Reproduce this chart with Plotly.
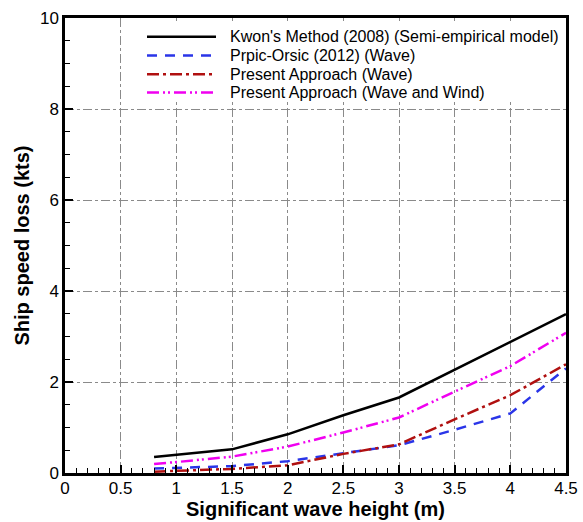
import plotly.graph_objects as go

# Significant wave height (m)
wave_height = [0.8, 1.0, 1.5, 2.0, 2.5, 3.0, 3.5, 4.0, 4.5]

# Ship speed loss (kts) for each method
kwon_2008 = [0.35, 0.40, 0.52, 0.85, 1.27, 1.66, 2.27, 2.88, 3.49]
prpic_orsic_2012 = [0.10, 0.11, 0.15, 0.26, 0.43, 0.61, 0.95, 1.31, 2.30]
present_wave = [0.03, 0.05, 0.09, 0.17, 0.42, 0.63, 1.18, 1.71, 2.39]
present_wave_wind = [0.20, 0.24, 0.36, 0.58, 0.89, 1.22, 1.79, 2.35, 3.08]

series_names = [
    "Kwon's Method (2008) (Semi-empirical model)",
    "Prpic-Orsic (2012) (Wave)",
    "Present Approach (Wave)",
    "Present Approach (Wave and Wind)",
]
series_values = [kwon_2008, prpic_orsic_2012, present_wave, present_wave_wind]
series_colors = ["#000000", "#2a35e8", "#b01010", "#f000f0"]
series_dash = [
    "solid",
    "10px,8px",
    "12px,4px,3px,4px",
    "12px,4px,2px,3px,2px,4px",
]

x_ticks = [0, 0.5, 1, 1.5, 2, 2.5, 3, 3.5, 4, 4.5]
y_ticks = [0, 2, 4, 6, 8, 10]

FONT = "Liberation Sans, Arial, sans-serif"
W, H = 583, 522
ML, MR, MT, MB = 65, 17, 18, 49
PW, PH = W - ML - MR, H - MT - MB

fig = go.Figure()
for name, vals, col, dash in zip(series_names, series_values, series_colors, series_dash):
    fig.add_trace(go.Scatter(
        x=wave_height, y=vals, mode="lines", name=name,
        line=dict(color=col, width=2.5, dash=dash),
        showlegend=False,
    ))


def px_x(px):
    return (px - ML) / PW


def px_y(py):
    return 1 - (py - MT) / PH


# Legend box drawn over the grid, with line samples and labels
shapes = [dict(type="rect", xref="paper", yref="paper",
               x0=px_x(140), x1=px_x(564), y0=px_y(101), y1=px_y(21),
               fillcolor="white", line=dict(width=0), layer="above")]
annotations = []
row_y = [36.7, 55.5, 74.2, 92.5]
for ry, name, col, dash in zip(row_y, series_names, series_colors, series_dash):
    shapes.append(dict(type="line", xref="paper", yref="paper",
                       x0=px_x(147), x1=px_x(216), y0=px_y(ry), y1=px_y(ry),
                       line=dict(color=col, width=2.5, dash=dash), layer="above"))
    annotations.append(dict(xref="paper", yref="paper", x=px_x(228), y=px_y(ry),
                            xanchor="left", yanchor="middle", showarrow=False,
                            text=name, font=dict(family=FONT, size=16, color="black")))

axis_common = dict(
    showline=True, linecolor="black", linewidth=2.5, mirror=True,
    ticks="inside", ticklen=8, tickwidth=2, tickcolor="black",
    showgrid=True, gridcolor="#8a8a8a", gridwidth=1, griddash="dashdot",
    zeroline=False,
    tickfont=dict(family=FONT, size=17, color="black"),
)

fig.update_layout(
    width=W, height=H,
    margin=dict(l=ML, r=MR, t=MT, b=MB, autoexpand=False),
    paper_bgcolor="white", plot_bgcolor="white",
    shapes=shapes, annotations=annotations,
    xaxis=dict(
        range=[0, 4.5], tickvals=x_ticks, ticktext=[f"{v:g}" for v in x_ticks],
        minor=dict(ticks="inside", ticklen=5, tickwidth=1, tickcolor="black",
                   dtick=0.1, showgrid=False),
        title=dict(text="<b>Significant wave height (m)</b>", standoff=2,
                   font=dict(family=FONT, size=20, color="black")),
        ticklabelstandoff=-2,
        **axis_common,
    ),
    yaxis=dict(
        range=[0, 10], tickvals=y_ticks, ticktext=[str(v) for v in y_ticks],
        minor=dict(ticks="inside", ticklen=5, tickwidth=1, tickcolor="black",
                   dtick=0.5, showgrid=False),
        title=dict(text="<b>Ship speed loss (kts)</b>", standoff=5,
                   font=dict(family=FONT, size=20, color="black")),
        **axis_common,
    ),
)

fig.write_html("out.html")
